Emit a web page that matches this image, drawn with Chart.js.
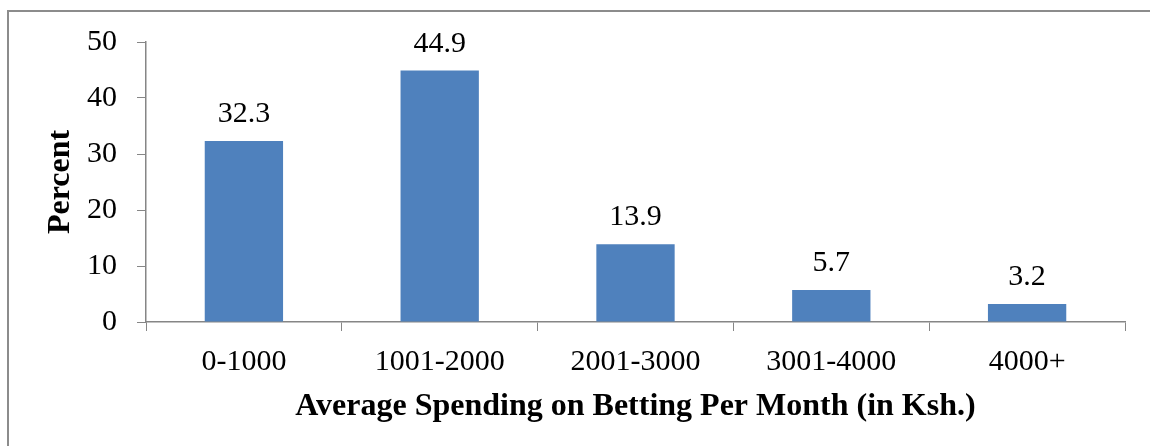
<!DOCTYPE html>
<html>
<head>
<meta charset="utf-8">
<script src="https://cdn.jsdelivr.net/npm/chart.js@4/dist/chart.umd.min.js"></script>
<style>
  html, body { margin: 0; padding: 0; background: #fff; }
  #wrap { position: relative; width: 1150px; height: 446px; }
</style>
</head>
<body>
<div id="wrap"><canvas id="spendChart" width="1150" height="446"></canvas></div>
<script>
const categories = ["0-1000", "1001-2000", "2001-3000", "3001-4000", "4000+"];
const percents = [32.3, 44.9, 13.9, 5.7, 3.2];
const yTicks = [0, 10, 20, 30, 40, 50];

const serif = "'Liberation Serif', 'Times New Roman', serif";
const axisGray = "#868686";

// frame lines on top and left, like the original picture
const framePlugin = {
  id: "frame",
  beforeDraw(chart) {
    const ctx = chart.ctx;
    ctx.save();
    ctx.strokeStyle = "#8c8c8c";
    ctx.lineWidth = 2;
    ctx.beginPath();
    ctx.moveTo(8, 446);
    ctx.lineTo(8, 11);
    ctx.lineTo(1150, 11);
    ctx.stroke();
    ctx.restore();
  },
};

// value labels above each bar
const valueLabels = {
  id: "valueLabels",
  afterDatasetsDraw(chart) {
    const ctx = chart.ctx;
    const meta = chart.getDatasetMeta(0);
    ctx.save();
    ctx.font = "30px " + serif;
    ctx.fillStyle = "#000";
    ctx.textAlign = "center";
    ctx.textBaseline = "alphabetic";
    meta.data.forEach((bar, i) => {
      ctx.fillText(percents[i].toFixed(1), bar.x, bar.y - 19);
    });
    ctx.restore();
  },
};

const ctx = document.getElementById("spendChart").getContext("2d");
new Chart(ctx, {
  type: "bar",
  data: {
    labels: categories,
    datasets: [
      {
        label: "Percent",
        data: percents,
        backgroundColor: "#4F81BD",
        borderWidth: 0,
        barPercentage: 0.4,
        categoryPercentage: 1.0,
      },
    ],
  },
  options: {
    responsive: false,
    animation: false,
    layout: { padding: { top: 42, right: 25, left: 0, bottom: 0 } },
    plugins: {
      legend: { display: false },
      tooltip: { enabled: false },
    },
    scales: {
      x: {
        afterFit: (s) => { s.height = 124; },
        grid: {
          offset: true,
          drawOnChartArea: false,
          tickLength: 9,
          color: axisGray,
        },
        border: { color: axisGray, width: 1.5 },
        ticks: {
          color: "#000",
          padding: 13,
          font: { family: serif, size: 30 },
        },
        title: {
          display: true,
          text: "Average Spending on Betting Per Month (in Ksh.)",
          color: "#000",
          font: { family: serif, size: 32, weight: "bold" },
          padding: { top: 0, bottom: 20 },
        },
      },
      y: {
        min: 0,
        max: 50,
        afterFit: (s) => { s.width = 146; },
        afterBuildTicks: (s) => { s.ticks = yTicks.map((v) => ({ value: v })); },
        grid: {
          drawOnChartArea: false,
          tickLength: 9,
          color: axisGray,
        },
        border: { color: axisGray, width: 1.5 },
        ticks: {
          color: "#000",
          padding: 20,
          font: { family: serif, size: 30 },
        },
        title: {
          display: true,
          text: "Percent",
          color: "#000",
          font: { family: serif, size: 32, weight: "bold" },
          padding: { top: 42, bottom: 0 },
        },
      },
    },
  },
  plugins: [framePlugin, valueLabels],
});
</script>
</body>
</html>
